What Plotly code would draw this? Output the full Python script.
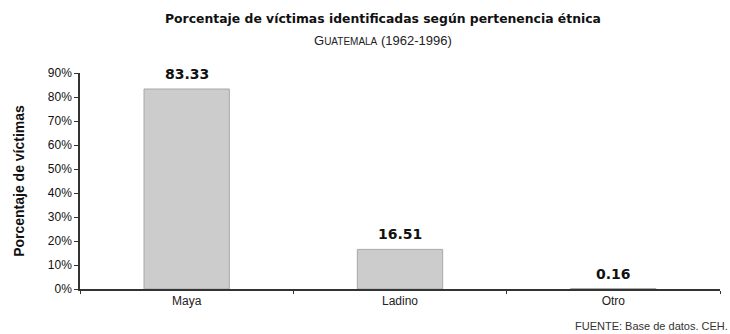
import plotly.graph_objects as go

categories = ["Maya", "Ladino", "Otro"]
values = [83.33, 16.51, 0.16]
value_labels = ["83.33", "16.51", "0.16"]
y_ticks = [0, 10, 20, 30, 40, 50, 60, 70, 80, 90]
y_tick_labels = ["0%", "10%", "20%", "30%", "40%", "50%", "60%", "70%", "80%", "90%"]

FONT = "Liberation Sans, Arial, sans-serif"
BOLD = "DejaVu Sans, sans-serif"

fig = go.Figure()
fig.add_trace(go.Bar(
    x=categories, y=values, width=0.4,
    marker=dict(color="#cccccc", line=dict(color="#a8a8a8", width=1)),
    hoverinfo="skip",
))

for c, v, t in zip(categories, values, value_labels):
    fig.add_annotation(x=c, y=v, text="<b>" + t + "</b>", showarrow=False,
                       yanchor="bottom", yshift=5,
                       font=dict(family=BOLD, size=14, color="#111111"))

fig.add_annotation(xref="paper", yref="paper", x=0.4735, y=1, yshift=55,
                   text="<b>Porcentaje de víctimas identificadas según pertenencia étnica</b>",
                   showarrow=False, xanchor="center", yanchor="middle",
                   font=dict(family=BOLD, size=12.4, color="#111111"))
fig.add_annotation(xref="paper", yref="paper", x=0.4735, y=1, yshift=33,
                   text="G<span style='font-size:10px'>UATEMALA</span> (1962-1996)",
                   showarrow=False, xanchor="center", yanchor="middle",
                   font=dict(family=FONT, size=13, color="#222222"))
fig.add_annotation(xref="paper", yref="paper", x=1, y=0, yshift=-37, xshift=10,
                   text="FUENTE: Base de datos. CEH.",
                   showarrow=False, xanchor="right", yanchor="middle",
                   font=dict(family=FONT, size=11, color="#333333"))

fig.update_layout(
    width=730, height=334,
    margin=dict(l=80, r=10, t=73, b=45),
    paper_bgcolor="white", plot_bgcolor="white",
    showlegend=False,
    font=dict(family=FONT, size=12, color="#222222"),
    xaxis=dict(
        type="category", tickson="boundaries",
        showline=True, linecolor="#333333", linewidth=1.5,
        ticks="outside", ticklen=3, tickcolor="#333333",
        tickfont=dict(size=12), showgrid=False,
    ),
    yaxis=dict(
        range=[0, 90], tickmode="array", tickvals=y_ticks, ticktext=y_tick_labels,
        showline=True, linecolor="#333333", linewidth=1.5,
        ticks="outside", ticklen=4, tickcolor="#333333",
        showgrid=False, zeroline=False,
        tickfont=dict(size=12, color="#111111"),
        title=dict(text="<b>Porcentaje de víctimas</b>", standoff=20,
                   font=dict(size=14, color="#111111")),
    ),
)

fig.write_html("out.html")
